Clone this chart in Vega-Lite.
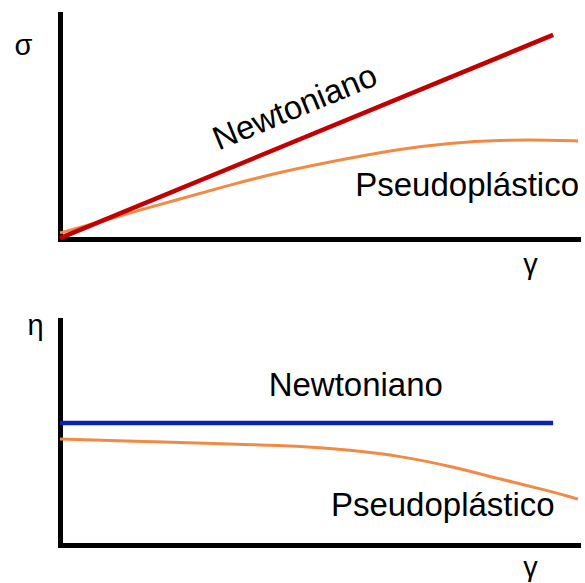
{
  "$schema": "https://vega.github.io/schema/vega-lite/v6.json",
  "padding": {"left": 14, "top": 14, "right": 5, "bottom": 0},
  "spacing": 81,
  "bounds": "flush",
  "background": "white",
  "config": {
    "view": {"stroke": null},
    "font": "Liberation Sans",
    "axis": {
      "domainColor": "black",
      "domainWidth": 5,
      "domainCap": "square",
      "ticks": false,
      "labels": false,
      "grid": false,
      "titleFontSize": 29,
      "titleFontWeight": "normal",
      "titleColor": "black",
      "titleAngle": 0,
      "titleAlign": "center",
      "titleBaseline": "alphabetic",
      "titlePadding": 0
    },
    "text": {"font": "Liberation Sans", "fontSize": 33, "color": "black"}
  },
  "datasets": {
    "curves": [
      {"panel": "top", "serie": "Newtoniano", "g": 0, "v": 0.4},
      {"panel": "top", "serie": "Newtoniano", "g": 95.2, "v": 90.7},
      {"panel": "top", "serie": "Pseudoplástico", "g": 0, "v": 2.7},
      {"panel": "top", "serie": "Pseudoplástico", "g": 7.7, "v": 7.6},
      {"panel": "top", "serie": "Pseudoplástico", "g": 15.4, "v": 12.9},
      {"panel": "top", "serie": "Pseudoplástico", "g": 23.2, "v": 17.8},
      {"panel": "top", "serie": "Pseudoplástico", "g": 32.8, "v": 24.0},
      {"panel": "top", "serie": "Pseudoplástico", "g": 42.5, "v": 29.8},
      {"panel": "top", "serie": "Pseudoplástico", "g": 56.0, "v": 36.0},
      {"panel": "top", "serie": "Pseudoplástico", "g": 65.6, "v": 40.0},
      {"panel": "top", "serie": "Pseudoplástico", "g": 75.3, "v": 42.7},
      {"panel": "top", "serie": "Pseudoplástico", "g": 84.9, "v": 44.0},
      {"panel": "top", "serie": "Pseudoplástico", "g": 94.6, "v": 44.0},
      {"panel": "top", "serie": "Pseudoplástico", "g": 100, "v": 43.6},
      {"panel": "bottom", "serie": "Newtoniano", "g": 0, "v": 54.2},
      {"panel": "bottom", "serie": "Newtoniano", "g": 95.2, "v": 54.2},
      {"panel": "bottom", "serie": "Pseudoplástico", "g": 0, "v": 47.1},
      {"panel": "bottom", "serie": "Pseudoplástico", "g": 19.3, "v": 45.8},
      {"panel": "bottom", "serie": "Pseudoplástico", "g": 32.8, "v": 44.9},
      {"panel": "bottom", "serie": "Pseudoplástico", "g": 46.3, "v": 44.0},
      {"panel": "bottom", "serie": "Pseudoplástico", "g": 56.0, "v": 42.2},
      {"panel": "bottom", "serie": "Pseudoplástico", "g": 65.6, "v": 39.6},
      {"panel": "bottom", "serie": "Pseudoplástico", "g": 75.3, "v": 35.1},
      {"panel": "bottom", "serie": "Pseudoplástico", "g": 84.9, "v": 29.3},
      {"panel": "bottom", "serie": "Pseudoplástico", "g": 94.6, "v": 24.0},
      {"panel": "bottom", "serie": "Pseudoplástico", "g": 100, "v": 20.4}
    ],
    "labels": [
      {"panel": "top", "label": "Newtoniano", "g": 45.4, "v": 58.2},
      {"panel": "top", "label": "Pseudoplástico", "g": 78.6, "v": 19.1},
      {"panel": "bottom", "label": "Newtoniano", "g": 57.1, "v": 66.2},
      {"panel": "bottom", "label": "Pseudoplástico", "g": 73.9, "v": 12.9}
    ]
  },
  "vconcat": [
    {
      "width": 518,
      "height": 225,
      "encoding": {
        "x": {"field": "g", "type": "quantitative", "scale": {"domain": [0, 100], "nice": false},
              "axis": {"title": "γ", "titleX": 470, "titleY": 34}},
        "y": {"field": "v", "type": "quantitative", "scale": {"domain": [0, 100], "nice": false},
              "axis": {"title": "σ", "titleX": -37, "titleY": 40}}
      },
      "layer": [
        {
          "data": {"name": "curves"},
          "transform": [{"filter": "datum.panel === 'top' && datum.serie === 'Pseudoplástico'"}],
          "mark": {"type": "line", "color": "#f28a46", "strokeWidth": 3, "interpolate": "basis"}
        },
        {
          "data": {"name": "curves"},
          "transform": [{"filter": "datum.panel === 'top' && datum.serie === 'Newtoniano'"}],
          "mark": {"type": "line", "color": "#c00000", "strokeWidth": 4.5}
        },
        {
          "data": {"name": "labels"},
          "transform": [{"filter": "datum.panel === 'top' && datum.label === 'Newtoniano'"}],
          "mark": {"type": "text", "angle": -22.4, "align": "center", "baseline": "middle"},
          "encoding": {"text": {"field": "label"}}
        },
        {
          "data": {"name": "labels"},
          "transform": [{"filter": "datum.panel === 'top' && datum.label === 'Pseudoplástico'"}],
          "mark": {"type": "text", "align": "center", "baseline": "alphabetic"},
          "encoding": {"text": {"field": "label"}}
        }
      ]
    },
    {
      "width": 518,
      "height": 225,
      "encoding": {
        "x": {"field": "g", "type": "quantitative", "scale": {"domain": [0, 100], "nice": false},
              "axis": {"title": "γ", "titleX": 470, "titleY": 31}},
        "y": {"field": "v", "type": "quantitative", "scale": {"domain": [0, 100], "nice": false},
              "axis": {"title": "η", "titleX": -25, "titleY": 14}}
      },
      "layer": [
        {
          "data": {"name": "curves"},
          "transform": [{"filter": "datum.panel === 'bottom' && datum.serie === 'Pseudoplástico'"}],
          "mark": {"type": "line", "color": "#f28a46", "strokeWidth": 3, "interpolate": "basis"}
        },
        {
          "data": {"name": "curves"},
          "transform": [{"filter": "datum.panel === 'bottom' && datum.serie === 'Newtoniano'"}],
          "mark": {"type": "line", "color": "#0a23b4", "strokeWidth": 4.5}
        },
        {
          "data": {"name": "labels"},
          "transform": [{"filter": "datum.panel === 'bottom'"}],
          "mark": {"type": "text", "align": "center", "baseline": "alphabetic"},
          "encoding": {"text": {"field": "label"}}
        }
      ]
    }
  ]
}
